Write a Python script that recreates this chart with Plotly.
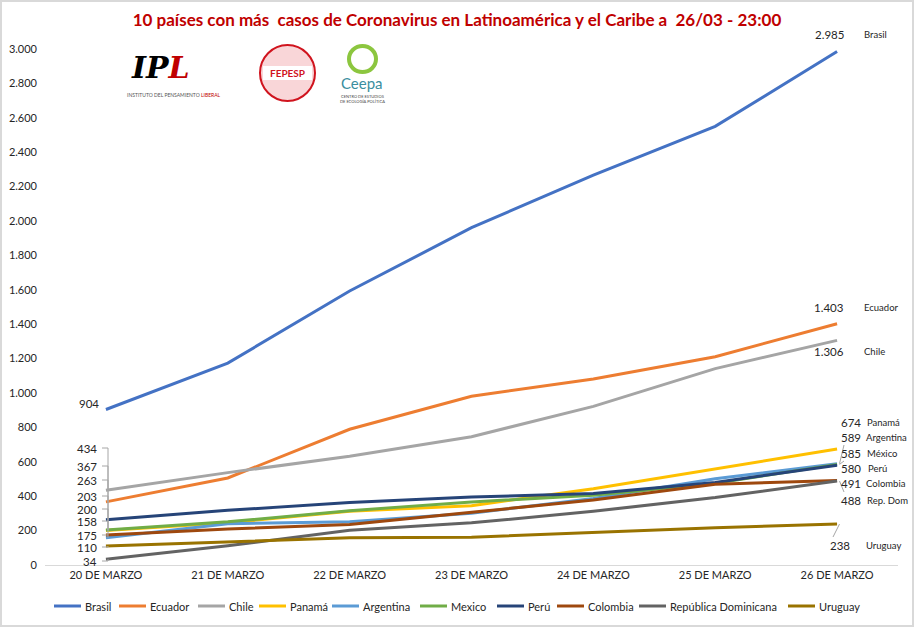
import plotly.graph_objects as go

# ---------------- data ----------------
dates = ["20 DE MARZO", "21 DE MARZO", "22 DE MARZO", "23 DE MARZO",
         "24 DE MARZO", "25 DE MARZO", "26 DE MARZO"]
countries = ["Brasil", "Ecuador", "Chile", "Panamá", "Argentina", "Mexico",
             "Perú", "Colombia", "República Dominicana", "Uruguay"]
brasil = [904, 1174, 1593, 1961, 2267, 2550, 2985]
ecuador = [367, 506, 789, 981, 1082, 1211, 1403]
chile = [434, 537, 632, 746, 922, 1142, 1306]
panama = [200, 245, 313, 345, 443, 558, 674]
argentina = [158, 240, 252, 301, 387, 502, 589]
mexico = [203, 251, 316, 367, 405, 475, 585]
peru = [263, 318, 363, 395, 416, 480, 580]
colombia = [175, 210, 235, 306, 378, 470, 491]
rep_dom = [34, 112, 202, 245, 312, 392, 488]
uruguay = [110, 135, 158, 162, 189, 217, 238]
series = [brasil, ecuador, chile, panama, argentina, mexico, peru,
          colombia, rep_dom, uruguay]
# names shown next to the last value
end_names = ["Brasil", "Ecuador", "Chile", "Panamá", "Argentina", "México",
             "Perú", "Colombia", "Rep. Dom", "Uruguay"]
y_ticks = list(range(0, 3001, 200))
title_text = "10 países con más  casos de Coronavirus en Latinoamérica y el Caribe a  26/03 - 23:00"

# ---------------- styles / layout ----------------
colors = ["#4472C4", "#ED7D31", "#A5A5A5", "#FFC000", "#5B9BD5", "#70AD47",
          "#264478", "#9E480E", "#636363", "#997300"]
W, H = 914, 627
ML, MR, MT, MB = 45, 16, 49, 62
PW, PH = W - ML - MR, H - MT - MB
YMAX = 3000
FONT = "Lato"
TXT = "#262626"
LEAD = "#A6A6A6"


def px2y(py):
    return (H - MB - py) / PH * YMAX


def px2x(px):
    return (px - ML) / PW * len(dates) - 0.5


def ppx(px):
    return (px - ML) / PW


def ppy(py):
    return (H - MB - py) / PH


# label placement (pixels) for first-day labels (left) and last-day labels (right)
left_label_py = [403, 466, 448, 509, 521, 496, 480, 535, 561, 547]
right_label_py = [35, 307, 352, 422, 437, 453, 468, 484, 500, 545]
right_value_px = [846, 846, 846, 863, 863, 863, 863, 863, 863, 852]
right_name_px = [862, 862, 862, 865, 864, 865, 866, 864, 865, 864]
right_leader = [False, False, False, False, True, True, False, False, True, True]
# custom legend placement (pixels)
legend_sym_px = [54, 119, 198, 259, 332, 420, 497, 557, 639, 788]
legend_py = 606
legend_sym_len = 27


def fmt(v):
    return f"{v:,}".replace(",", ".")


def ann(px, py, text, size, anchor="center", color=TXT, family=FONT):
    return dict(x=ppx(px), y=ppy(py), xref="paper", yref="paper", text=text,
                showarrow=False, xanchor=anchor, yanchor="middle",
                font=dict(size=size, color=color, family=family))


fig = go.Figure()
for name, vals, col in zip(countries, series, colors):
    fig.add_trace(go.Scatter(x=dates, y=vals, mode="lines", name=name,
                             line=dict(color=col, width=3), cliponaxis=False,
                             showlegend=False))

annotations = []
shapes = []

# left labels (first-day values)
bx = px2x(108)
for i, vals in enumerate(series):
    v0 = vals[0]
    lpy = left_label_py[i]
    if i == 0:
        annotations.append(ann(101, lpy, fmt(v0), 11.5, "right"))
        continue
    annotations.append(ann(99, lpy, fmt(v0), 11.5, "right"))
    ly = px2y(lpy)
    shapes.append(dict(type="line", xref="x", yref="y", x0=px2x(102), x1=bx,
                       y0=ly, y1=ly, line=dict(color=LEAD, width=1)))
    shapes.append(dict(type="line", xref="x", yref="y", x0=bx, x1=bx,
                       y0=ly, y1=v0, line=dict(color=LEAD, width=1)))

# right labels (last-day values)
for i, vals in enumerate(series):
    v = vals[-1]
    rpy = right_label_py[i]
    annotations.append(ann(right_value_px[i], rpy, fmt(v), 11.5, "right"))
    annotations.append(ann(right_name_px[i], rpy, end_names[i], 9.5, "left"))
    if right_leader[i]:
        ly = px2y(rpy)
        lx = px2x(right_value_px[i] - 19)
        shapes.append(dict(type="line", xref="x", yref="y", x0=len(dates) - 1 + 0.02,
                           x1=lx, y0=v, y1=ly + (px2y(0) - px2y(8)) * (1 if ly < v else -1),
                           line=dict(color=LEAD, width=1)))

# custom legend (one row, like the reference)
for i, name in enumerate(countries):
    x0 = legend_sym_px[i]
    shapes.append(dict(type="line", xref="paper", yref="paper", x0=ppx(x0),
                       x1=ppx(x0 + legend_sym_len), y0=ppy(legend_py), y1=ppy(legend_py),
                       line=dict(color=colors[i], width=3)))
    annotations.append(ann(x0 + legend_sym_len + 2, legend_py, name, 11, "left"))

# logo approximations (text + simple shapes)
annotations += [
    ann(160, 68, "<b><i>IP</i></b><b><i><span style='color:#C00000'>L</span></i></b>",
        30, "center", "black", "DejaVu Serif"),
    ann(174, 95, "INSTITUTO DEL PENSAMIENTO <span style='color:#C00000'>LIBERAL</span>",
        5, "center", "#555555"),
    ann(287, 73, "<b>FEPESP</b>", 10, "center", "#D0141E"),
    ann(362, 83, "Ceepa", 15, "center", "#3A8E9E"),
    ann(362, 99, "CENTRO DE ESTUDIOS<br>DE ECOLOGÍA POLÍTICA", 4, "center", "#444444"),
]
shapes += [
    dict(type="circle", xref="paper", yref="paper", x0=ppx(260), x1=ppx(315),
         y0=ppy(101), y1=ppy(45), line=dict(color="#D0141E", width=2),
         fillcolor="rgba(220,30,40,0.18)", layer="below"),
    dict(type="rect", xref="paper", yref="paper", x0=ppx(263), x1=ppx(312),
         y0=ppy(80), y1=ppy(66), line=dict(width=0), fillcolor="white", layer="below"),
    dict(type="circle", xref="paper", yref="paper", x0=ppx(349), x1=ppx(376),
         y0=ppy(72), y1=ppy(46), line=dict(color="#8CC63F", width=4)),
    dict(type="rect", xref="paper", yref="paper", x0=ppx(1), x1=ppx(W - 1),
         y0=ppy(H - 1), y1=ppy(1), line=dict(color="#D9D9D9", width=2)),
]

fig.update_layout(
    width=W, height=H,
    margin=dict(l=ML, r=MR, t=MT, b=MB, autoexpand=False),
    paper_bgcolor="white", plot_bgcolor="white",
    separators=",.",
    hovermode=False,
    title=dict(text=title_text, x=0.5, xref="container", xanchor="center",
               y=1 - 20 / H, yref="container", yanchor="middle",
               font=dict(size=17, color="#C00000", family=FONT, weight="bold")),
    xaxis=dict(type="category", range=[-0.5, len(dates) - 0.5], showgrid=False,
               zeroline=False, showline=True, linecolor="#D9D9D9", linewidth=1,
               ticks="", automargin=False,
               tickfont=dict(size=11, color=TXT, family=FONT)),
    yaxis=dict(range=[0, YMAX], tickvals=y_ticks, tickformat=",", showgrid=False,
               zeroline=False, showline=False, ticks="", automargin=False,
               tickfont=dict(size=11, color=TXT, family=FONT), ticklabelstandoff=7),
    annotations=annotations,
    shapes=shapes,
    showlegend=False,
)

fig.write_html("out.html", config={"displayModeBar": False},
               post_script="document.body.style.margin='0';document.body.style.overflow='hidden';")
